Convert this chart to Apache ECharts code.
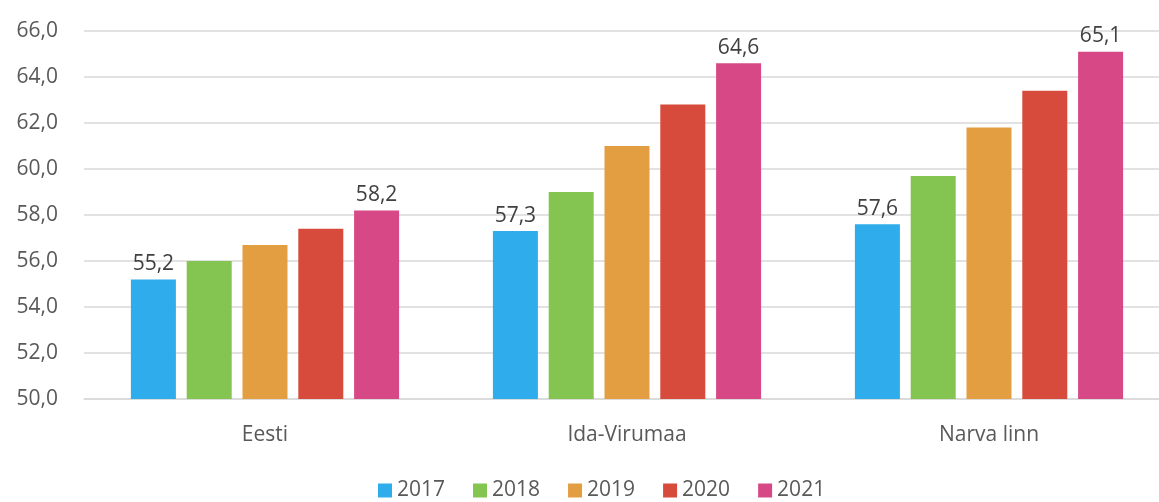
<!DOCTYPE html>
<html>
<head>
<meta charset="utf-8">
<script src="https://cdn.jsdelivr.net/npm/echarts@6/dist/echarts.min.js"></script>
<style>
  html, body { margin: 0; padding: 0; background: #fff; }
  #chart { width: 1159px; height: 502px; }
</style>
</head>
<body>
<div id="chart"></div>
<script>
// kategooriad ja aastad
var categories = ['Eesti', 'Ida-Virumaa', 'Narva linn']
var years = ['2017', '2018', '2019', '2020', '2021']

// väärtused aastate kaupa
var v2017 = [55.2, 57.3, 57.6]
var v2018 = [56.0, 59.0, 59.7]
var v2019 = [56.7, 61.0, 61.8]
var v2020 = [57.4, 62.8, 63.4]
var v2021 = [58.2, 64.6, 65.1]

var yTicks = [50, 52, 54, 56, 58, 60, 62, 64, 66]

var colors = ['#2FACEB', '#84C450', '#E29E40', '#D64B3C', '#D64886']
var values = [v2017, v2018, v2019, v2020, v2021]
var withLabel = [true, false, false, false, true]

var font = '"Open Sans", Lato, sans-serif'

function comma(n, d) {
  return n.toFixed(d).replace('.', ',')
}

var chart = echarts.init(document.getElementById('chart'))

var series = years.map(function (y, i) {
  return {
    name: y,
    type: 'bar',
    data: values[i],
    barWidth: 45,
    barGap: '24%',
    itemStyle: { color: colors[i] },
    label: {
      show: withLabel[i],
      position: 'top',
      distance: 5,
      color: '#404040',
      fontSize: 21,
      fontFamily: font,
      formatter: function (p) { return comma(p.value, 1) }
    },
    animation: false
  }
})

chart.setOption({
  animation: false,
  grid: {
    left: 84,
    top: 31,
    width: 1086,
    height: 368,
    outerBoundsMode: 'none'
  },
  legend: {
    data: years,
    bottom: -4,
    left: 373,
    icon: 'rect',
    itemWidth: 14,
    itemHeight: 14,
    itemGap: 28,
    textStyle: { color: '#595959', fontSize: 21, fontFamily: font }
  },
  xAxis: {
    type: 'category',
    data: categories,
    axisTick: { show: false },
    axisLine: { lineStyle: { color: '#d9d9d9', width: 1.5 } },
    axisLabel: {
      color: '#595959',
      fontSize: 21,
      fontFamily: font,
      margin: 26
    }
  },
  yAxis: {
    type: 'value',
    min: yTicks[0],
    max: yTicks[yTicks.length - 1],
    interval: 2,
    axisLine: { show: false },
    axisTick: { show: false },
    splitLine: { lineStyle: { color: '#d9d9d9', width: 1.5 } },
    axisLabel: {
      color: '#595959',
      fontSize: 21,
      fontFamily: font,
      margin: 26,
      formatter: function (v) { return comma(v, 1) }
    }
  },
  series: series
})
</script>
</body>
</html>
